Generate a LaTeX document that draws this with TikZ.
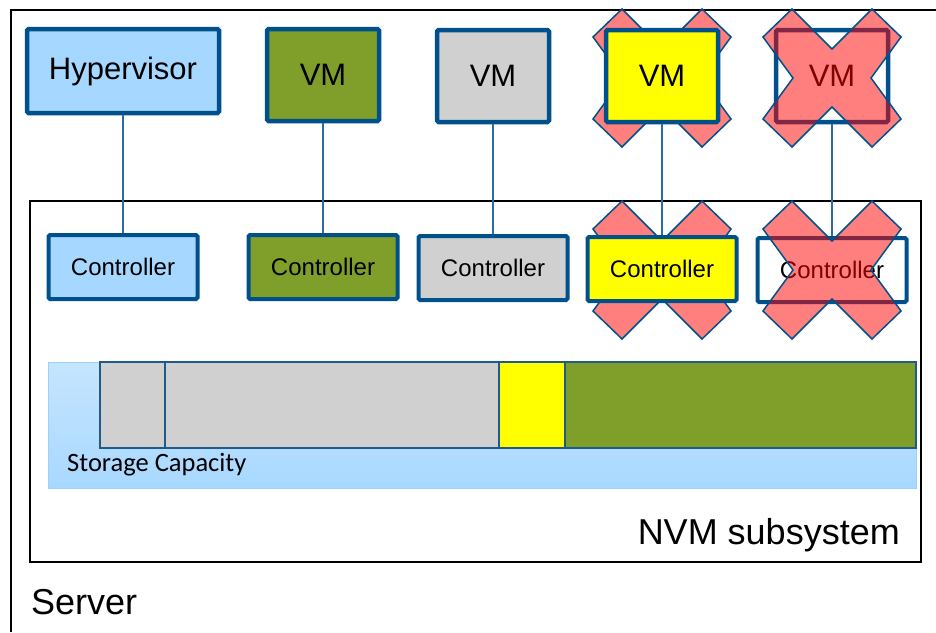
\documentclass[tikz,border=0pt]{standalone}
\usepackage{fontspec}
\setmainfont{Liberation Sans}
\newfontfamily\capfont{Carlito}
\definecolor{nvmblue}{HTML}{00508C}
\definecolor{linkblue}{HTML}{2A6BA8}
\definecolor{hvblue}{HTML}{A6D8FF}
\definecolor{vmgreen}{HTML}{7F9F2A}
\definecolor{vmgray}{HTML}{D0D0D0}
\definecolor{vmyellow}{HTML}{FFFF00}
\definecolor{captop}{HTML}{C6E5FF}
\definecolor{capbottom}{HTML}{A8D8FF}
\definecolor{capline}{HTML}{9AD2FF}
\definecolor{barline}{HTML}{1F5A8A}
\begin{document}
\begin{tikzpicture}[x=1pt,y=-1pt,
  vm node/.style={draw=nvmblue,line width=4.5pt,rounded corners=1.5pt,inner sep=0pt,
    minimum width=112pt,minimum height=92pt,font=\fontsize{31}{31}\selectfont},
  ctrl node/.style={draw=nvmblue,line width=4pt,rounded corners=1.5pt,inner sep=0pt,
    minimum width=149pt,minimum height=64pt,font=\fontsize{24}{24}\selectfont},
  link/.style={draw=linkblue,line width=1.5pt},
  bar/.style={draw=barline,line width=2.2pt},
  xmark/.pic={\draw[fill=red,fill opacity=0.5,draw=nvmblue,line width=1.5pt]
    (-69,-41) -- (-40,-69) -- (0,-29) -- (40,-69) -- (69,-41) -- (39,0)
    -- (69,41) -- (40,69) -- (0,29) -- (-40,69) -- (-69,41) -- (-39,0) -- cycle;}]
  \useasboundingbox (0,0) rectangle (936,632);

  % server and subsystem frames
  \draw[line width=2.8pt] (936,10) -- (11,10) -- (11,632);
  \draw[line width=2.8pt] (30,201) rectangle (921,562);

  % storage capacity
  \shade[top color=captop,bottom color=capbottom,draw=capline,line width=1pt] (48,362) rectangle (916,488);
  \path[bar,fill=vmgray] (100,362) rectangle (165,448);
  \path[bar,fill=vmgray] (165,362) rectangle (499,448);
  \path[bar,fill=vmyellow] (499,362) rectangle (565,448);
  \path[bar,fill=vmgreen] (565,362) rectangle (916,448);
  \node[anchor=base west,inner sep=0pt,font=\capfont\fontsize{26.5}{26.5}\selectfont] (cap) at (67,471) {Storage Capacity};

  % crosses behind the yellow pair
  \pic at (662,78) {xmark};
  \pic at (662,270) {xmark};

  \node[vm node,fill=hvblue,minimum width=192pt,minimum height=84pt] at (123,71) (hv) {Hypervisor};
  \node[vm node,fill=vmgreen] at (323,75) (vmA) {VM};
  \node[vm node,fill=vmgray] at (493,76) (vmB) {VM};
  \node[vm node,fill=vmyellow] at (662,76) (vmC) {VM};
  \node[vm node,fill=white] at (832,76) (vmD) {VM};

  \node[ctrl node,fill=hvblue] at (123,267) (ctA) {Controller};
  \node[ctrl node,fill=vmgreen] at (323,267) (ctB) {Controller};
  \node[ctrl node,fill=vmgray] at (493,268) (ctC) {Controller};
  \node[ctrl node,fill=vmyellow] at (662,269) (ctD) {Controller};
  \node[ctrl node,fill=white] at (832,270) (ctE) {Controller};

  \path[link]
  (hv) edge (ctA)
  (vmA) edge (ctB)
  (vmB) edge (ctC)
  (vmC) edge (ctD)
  (vmD) edge (ctE);

  % crosses over the white pair
  \pic at (832,78) {xmark};
  \pic at (832,270) {xmark};

  \node[anchor=base east,inner sep=0pt,font=\fontsize{36}{36}\selectfont] (nvm) at (900,544) {NVM subsystem};
  \node[anchor=base west,inner sep=0pt,font=\fontsize{36}{36}\selectfont] (srv) at (31,614) {Server};
\end{tikzpicture}
\end{document}
